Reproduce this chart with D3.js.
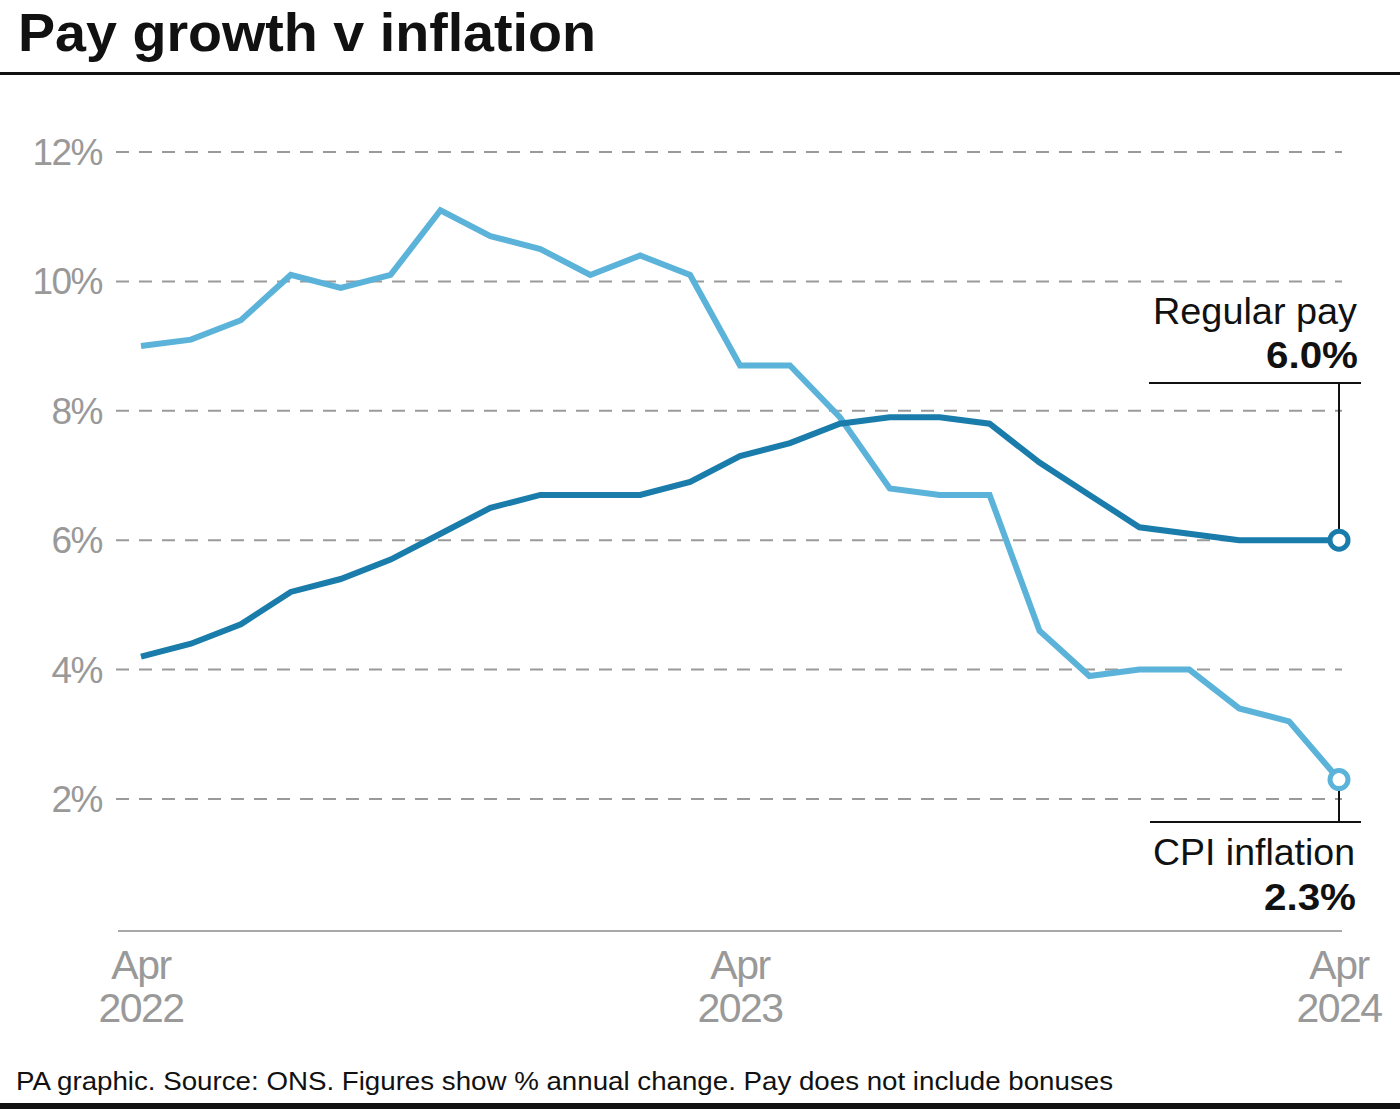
<!DOCTYPE html>
<html>
<head>
<meta charset="utf-8">
<script src="https://cdn.jsdelivr.net/npm/d3@7"></script>
<style>
  html, body { margin: 0; padding: 0; background: #fff; }
  svg { display: block; }
  text { font-family: "Liberation Sans", Arial, Helvetica, sans-serif; }
</style>
</head>
<body>
<svg id="chart" width="1400" height="1109"></svg>
<script>
// ---- Data (monthly, Apr 2022 .. Apr 2024) ----
const months = ["Apr 2022","May 2022","Jun 2022","Jul 2022","Aug 2022","Sep 2022","Oct 2022","Nov 2022","Dec 2022",
  "Jan 2023","Feb 2023","Mar 2023","Apr 2023","May 2023","Jun 2023","Jul 2023","Aug 2023","Sep 2023","Oct 2023",
  "Nov 2023","Dec 2023","Jan 2024","Feb 2024","Mar 2024","Apr 2024"];
const cpiInflation = [9.0, 9.1, 9.4, 10.1, 9.9, 10.1, 11.1, 10.7, 10.5, 10.1, 10.4, 10.1, 8.7, 8.7, 7.9, 6.8, 6.7, 6.7, 4.6, 3.9, 4.0, 4.0, 3.4, 3.2, 2.3];
const regularPay = [4.2, 4.4, 4.7, 5.2, 5.4, 5.7, 6.1, 6.5, 6.7, 6.7, 6.7, 6.9, 7.3, 7.5, 7.8, 7.9, 7.9, 7.8, 7.2, 6.7, 6.2, 6.1, 6.0, 6.0, 6.0];
const yTicks = [2, 4, 6, 8, 10, 12];
const xTickIndex = [0, 12, 24];
const xTickLabels = [["Apr", "2022"], ["Apr", "2023"], ["Apr", "2024"]];
const seriesLabels = ["Regular pay", "CPI inflation"];
const seriesValueLabels = ["6.0%", "2.3%"];

const title = "Pay growth v inflation";
const footer = "PA graphic. Source: ONS. Figures show % annual change. Pay does not include bonuses";

// ---- Setup ----
const svg = d3.select("#chart");
const W = 1400, H = 1109;
const lightBlue = "#5cb3d9";
const darkBlue = "#1a7cab";
const gray = "#999999";

const x = d3.scaleLinear().domain([0, months.length - 1]).range([141, 1339]);
const y = d3.scaleLinear().domain([2, 12]).range([799, 152]);

// Title
svg.append("text")
  .attr("x", 18).attr("y", 51)
  .attr("font-size", 54).attr("font-weight", "bold")
  .attr("textLength", 578).attr("lengthAdjust", "spacingAndGlyphs")
  .attr("fill", "#111")
  .text(title);

svg.append("rect").attr("x", 0).attr("y", 72).attr("width", W).attr("height", 3).attr("fill", "#111");

// Gridlines
const gridL = 116, gridR = 1342;
svg.append("g").selectAll("line").data(yTicks).join("line")
  .attr("x1", gridL).attr("x2", gridR)
  .attr("y1", d => y(d)).attr("y2", d => y(d))
  .attr("stroke", "#9a9a9a").attr("stroke-width", 2)
  .attr("stroke-dasharray", "13,10");

// Y labels
svg.append("g").selectAll("text").data(yTicks).join("text")
  .attr("x", 102).attr("y", d => y(d) + 13)
  .attr("text-anchor", "end")
  .attr("font-size", 37)
  .attr("fill", gray)
  .attr("letter-spacing", -1.5)
  .text(d => d + "%");

// X axis line
svg.append("line")
  .attr("x1", 118).attr("x2", gridR)
  .attr("y1", y(0) + 2.5).attr("y2", y(0) + 2.5)
  .attr("stroke", "#a8a8a8").attr("stroke-width", 2);

// X labels
const xl = svg.append("g").selectAll("g").data(xTickIndex).join("g");
xl.append("text")
  .attr("x", d => x(d)).attr("y", 979)
  .attr("text-anchor", "middle").attr("font-size", 41).attr("fill", gray)
  .attr("letter-spacing", -1.5)
  .text((d, i) => xTickLabels[i][0]);
xl.append("text")
  .attr("x", d => x(d)).attr("y", 1022)
  .attr("text-anchor", "middle").attr("font-size", 41).attr("fill", gray)
  .attr("letter-spacing", -1.5)
  .text((d, i) => xTickLabels[i][1]);

// Lines
const line = d3.line().x((d, i) => x(i)).y(d => y(d)).curve(d3.curveLinear);
svg.append("path").datum(cpiInflation)
  .attr("d", line).attr("fill", "none")
  .attr("stroke", lightBlue).attr("stroke-width", 6)
  .attr("stroke-linejoin", "miter");
svg.append("path").datum(regularPay)
  .attr("d", line).attr("fill", "none")
  .attr("stroke", darkBlue).attr("stroke-width", 6)
  .attr("stroke-linejoin", "miter");

// Annotations
const last = months.length - 1;
const payY = y(regularPay[last]);
const cpiY = y(cpiInflation[last]);
const lx = x(last);

// Regular pay leader
svg.append("line").attr("x1", 1149).attr("x2", 1361).attr("y1", 383).attr("y2", 383)
  .attr("stroke", "#111").attr("stroke-width", 2);
svg.append("line").attr("x1", lx).attr("x2", lx).attr("y1", 383).attr("y2", payY - 10)
  .attr("stroke", "#111").attr("stroke-width", 2);
// CPI leader
svg.append("line").attr("x1", 1150).attr("x2", 1361).attr("y1", 822).attr("y2", 822)
  .attr("stroke", "#111").attr("stroke-width", 2);
svg.append("line").attr("x1", lx).attr("x2", lx).attr("y1", cpiY + 10).attr("y2", 822)
  .attr("stroke", "#111").attr("stroke-width", 2);

// End circles
svg.append("circle").attr("cx", lx).attr("cy", payY).attr("r", 9)
  .attr("fill", "#fff").attr("stroke", darkBlue).attr("stroke-width", 5);
svg.append("circle").attr("cx", lx).attr("cy", cpiY).attr("r", 9)
  .attr("fill", "#fff").attr("stroke", lightBlue).attr("stroke-width", 5);

// Labels
svg.append("text").attr("x", 1357).attr("y", 324).attr("text-anchor", "end")
  .attr("font-size", 37).attr("fill", "#111")
  .attr("textLength", 204).attr("lengthAdjust", "spacingAndGlyphs")
  .text(seriesLabels[0]);
svg.append("text").attr("x", 1358).attr("y", 368).attr("text-anchor", "end")
  .attr("font-size", 37).attr("font-weight", "bold").attr("fill", "#111")
  .attr("textLength", 92).attr("lengthAdjust", "spacingAndGlyphs")
  .text(seriesValueLabels[0]);
svg.append("text").attr("x", 1355).attr("y", 865).attr("text-anchor", "end")
  .attr("font-size", 37).attr("fill", "#111")
  .attr("textLength", 202).attr("lengthAdjust", "spacingAndGlyphs")
  .text(seriesLabels[1]);
svg.append("text").attr("x", 1356).attr("y", 910).attr("text-anchor", "end")
  .attr("font-size", 37).attr("font-weight", "bold").attr("fill", "#111")
  .attr("textLength", 92).attr("lengthAdjust", "spacingAndGlyphs")
  .text(seriesValueLabels[1]);

// Footer
svg.append("text").attr("x", 16).attr("y", 1090)
  .attr("font-size", 26).attr("fill", "#111")
  .attr("textLength", 1097).attr("lengthAdjust", "spacingAndGlyphs")
  .text(footer);
svg.append("rect").attr("x", 0).attr("y", 1103).attr("width", W).attr("height", 6).attr("fill", "#111");
</script>
</body>
</html>
